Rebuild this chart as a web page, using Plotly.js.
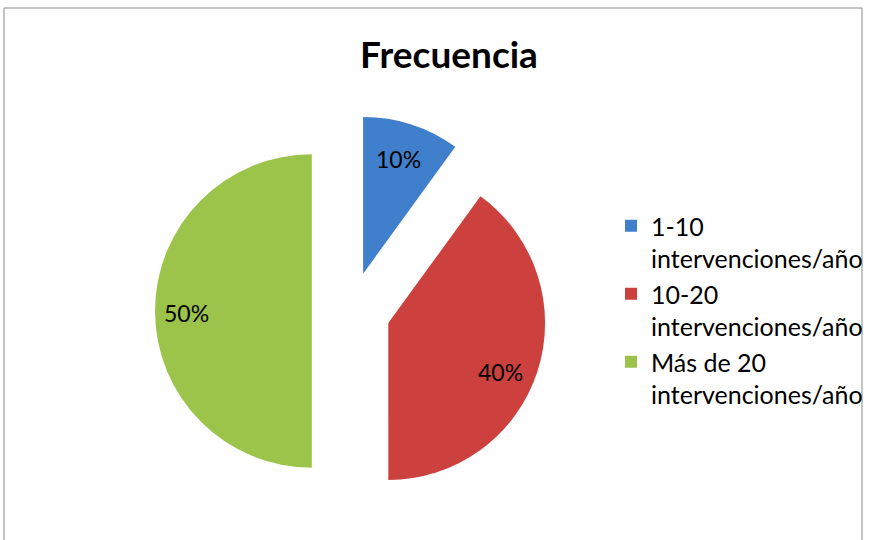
<!DOCTYPE html>
<html>
<head>
<meta charset="utf-8">
<script src="https://cdn.plot.ly/plotly-3.0.1.min.js"></script>
<style>html,body{margin:0;padding:0;background:#fff;}#chart{width:874px;height:540px;}</style>
</head>
<body>
<div id="chart"></div>
<script>
const categories = ["1-10<br>intervenciones/año", "10-20<br>intervenciones/año", "Más de 20<br>intervenciones/año"];
const values = [10, 40, 50];
const colors = ["#3F7FCB", "#CC403D", "#9CC44B"];
const pulls = [0.25, 0.25, 0.25];
const chartTitle = "Frecuencia";
// label placement (paper fraction) for each slice's percent label, as in the reference
const labelX = [398 / 874, 500 / 874, 186 / 874];
const labelY = [1 - 159 / 540, 1 - 372 / 540, 1 - 313 / 540];

const W = 874, H = 540;
const total = values.reduce((a, b) => a + b, 0);
const FONT = "Lato, 'Open Sans', sans-serif";

const trace = {
  type: "pie",
  labels: categories,
  values: values,
  sort: false,
  direction: "clockwise",
  rotation: 0,
  pull: pulls,
  marker: {colors: colors, line: {width: 0}},
  textinfo: "none",
  hoverinfo: "none",
  domain: {x: [155 / W, 547 / W], y: [1 - 507 / H, 1 - 115 / H]}
};

const annotations = values.map((v, i) => ({
  xref: "paper", yref: "paper",
  x: labelX[i], y: labelY[i], xanchor: "center", yanchor: "middle",
  text: Math.round(v / total * 100) + "%",
  showarrow: false,
  font: {family: FONT, size: 23, color: "#000"}
}));

const layout = {
  width: W, height: H,
  margin: {l: 0, r: 0, t: 0, b: 0},
  paper_bgcolor: "#fff",
  title: {
    text: "<b>" + chartTitle + "</b>",
    font: {family: FONT, size: 37, color: "#000"},
    x: 449 / W, xanchor: "center",
    y: 1 - 55 / H, yanchor: "middle"
  },
  showlegend: true,
  legend: {
    x: 611 / W, xanchor: "left",
    y: 1 - 203 / H, yanchor: "top",
    valign: "top",
    font: {family: FONT, size: 25, color: "#000"},
    bgcolor: "rgba(0,0,0,0)"
  },
  annotations: annotations,
  shapes: [{
    type: "rect", xref: "paper", yref: "paper",
    x0: 4 / W, x1: 862 / W, y0: -0.05, y1: 1 - 8 / H,
    line: {color: "#8a8a8a", width: 1}, fillcolor: "rgba(0,0,0,0)"
  }]
};

Plotly.newPlot("chart", [trace], layout, {displayModeBar: false, staticPlot: true});
</script>
</body>
</html>
